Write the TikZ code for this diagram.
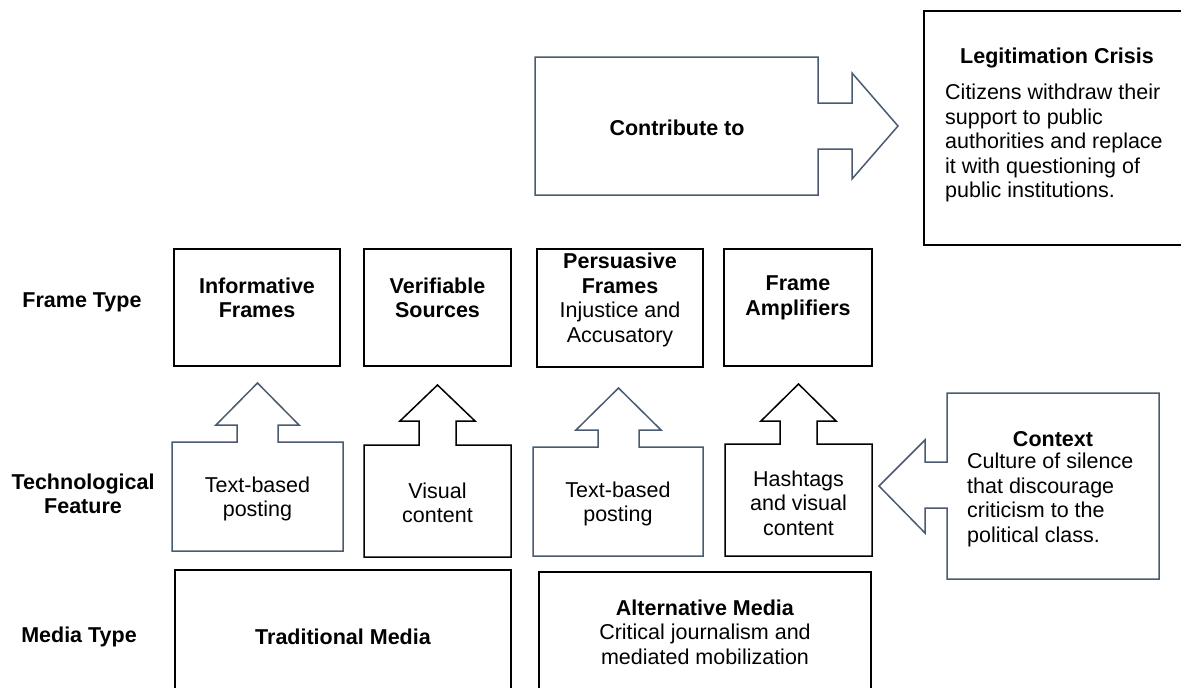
\documentclass[tikz,border=0pt]{standalone}
\usepackage{fontspec}
\setmainfont{Liberation Sans}
\definecolor{slate}{HTML}{4A5A70}
\begin{document}
\begin{tikzpicture}[x=1pt,y=-1pt,
  txt/.style={inner sep=0pt,font=\fontsize{21.5}{24.5}\selectfont,align=center},
  bld/.style={txt,font=\fontsize{21.5}{24.5}\selectfont\bfseries},
  blackline/.style={draw=black,line width=1.5pt,line join=miter},
  slateline/.style={draw=slate,line width=1.5pt,line join=miter}]
\useasboundingbox (0,0) rectangle (1181,688);
\clip (0,0) rectangle (1181,688);

% Row labels
\node[bld] (lframe) at (82,302) {Frame Type};
\node[bld] (ltech) at (83,494) {Technological\\Feature};
\node[bld] (lmedia) at (79,637) {Media Type};

% Contribute to arrow
\draw[slateline] (535,57) -- (818,57) -- (818,103) -- (852,103) -- (852,73) -- (898,126) -- (852,179) -- (852,149) -- (818,149) -- (818,195) -- (535,195) -- cycle;
\node[bld] (contrib) at (677,128) {Contribute to};

% Legitimation crisis
\draw[blackline] (924,11) rectangle (1195,245);
\node[bld] (legt) at (1057,58) {Legitimation Crisis};
\node[txt,align=left,anchor=west] (legb) at (945,143) {Citizens withdraw their\\support to public\\authorities and replace\\it with questioning of\\public institutions.};

% Frame type boxes
\draw[blackline] (174,249) rectangle (340,366);
\node[bld] (f1) at (257,298) {Informative\\Frames};
\draw[blackline] (364,249) rectangle (511,366);
\node[bld] (f2) at (437.5,298) {Verifiable\\Sources};
\draw[blackline] (537,249) rectangle (703,367);
\node[txt] (f3) at (620,300) {\textbf{Persuasive}\\\textbf{Frames}\\Injustice and\\Accusatory};
\draw[blackline] (724,249) rectangle (872,366);
\node[bld] (f4) at (798,298) {Frame\\Amplifiers};

% Technological feature up-arrows
\draw[slateline] (172,551) -- (172,442) -- (237,442) -- (237,425) -- (216,425) -- (257.5,383) -- (299,425) -- (278,425) -- (278,442) -- (343,442) -- (343,551) -- cycle;
\node[txt] (t1) at (257.5,499) {Text-based\\posting};
\draw[blackline] (364,557) -- (364,445) -- (419,445) -- (419,421) -- (400,421) -- (437.5,385) -- (475,421) -- (456,421) -- (456,445) -- (511,445) -- (511,557) -- cycle;
\node[txt] (t2) at (437.5,503) {Visual\\content};
\draw[slateline] (533,556) -- (533,447) -- (598,447) -- (598,430) -- (576,430) -- (618.5,388) -- (661,430) -- (639,430) -- (639,447) -- (703,447) -- (703,556) -- cycle;
\node[txt] (t3) at (618,504) {Text-based\\posting};
\draw[blackline] (725,556) -- (725,444) -- (780,444) -- (780,421) -- (761,421) -- (798.5,384) -- (836,421) -- (817,421) -- (817,444) -- (872,444) -- (872,556) -- cycle;
\node[txt] (t4) at (798.5,503) {Hashtags\\and visual\\content};

% Context left arrow
\draw[slateline] (947,393) -- (1159,393) -- (1159,579) -- (947,579) -- (947,508) -- (925,508) -- (925,533) -- (879,486) -- (925,440) -- (925,462) -- (947,462) -- cycle;
\node[bld] (ctxt) at (1053,439) {Context};
\node[txt,align=left,anchor=west] (ctxb) at (967,500) {Culture of silence\\that discourage\\criticism to the\\political class.};

% Media type boxes
\draw[blackline] (175,570) rectangle (511,700);
\node[bld] (m1) at (343,637) {Traditional Media};
\draw[blackline] (539,572) rectangle (871,700);
\node[txt] (m2) at (705,632) {\textbf{Alternative Media}\\Critical journalism and\\mediated mobilization};
\end{tikzpicture}
\end{document}
